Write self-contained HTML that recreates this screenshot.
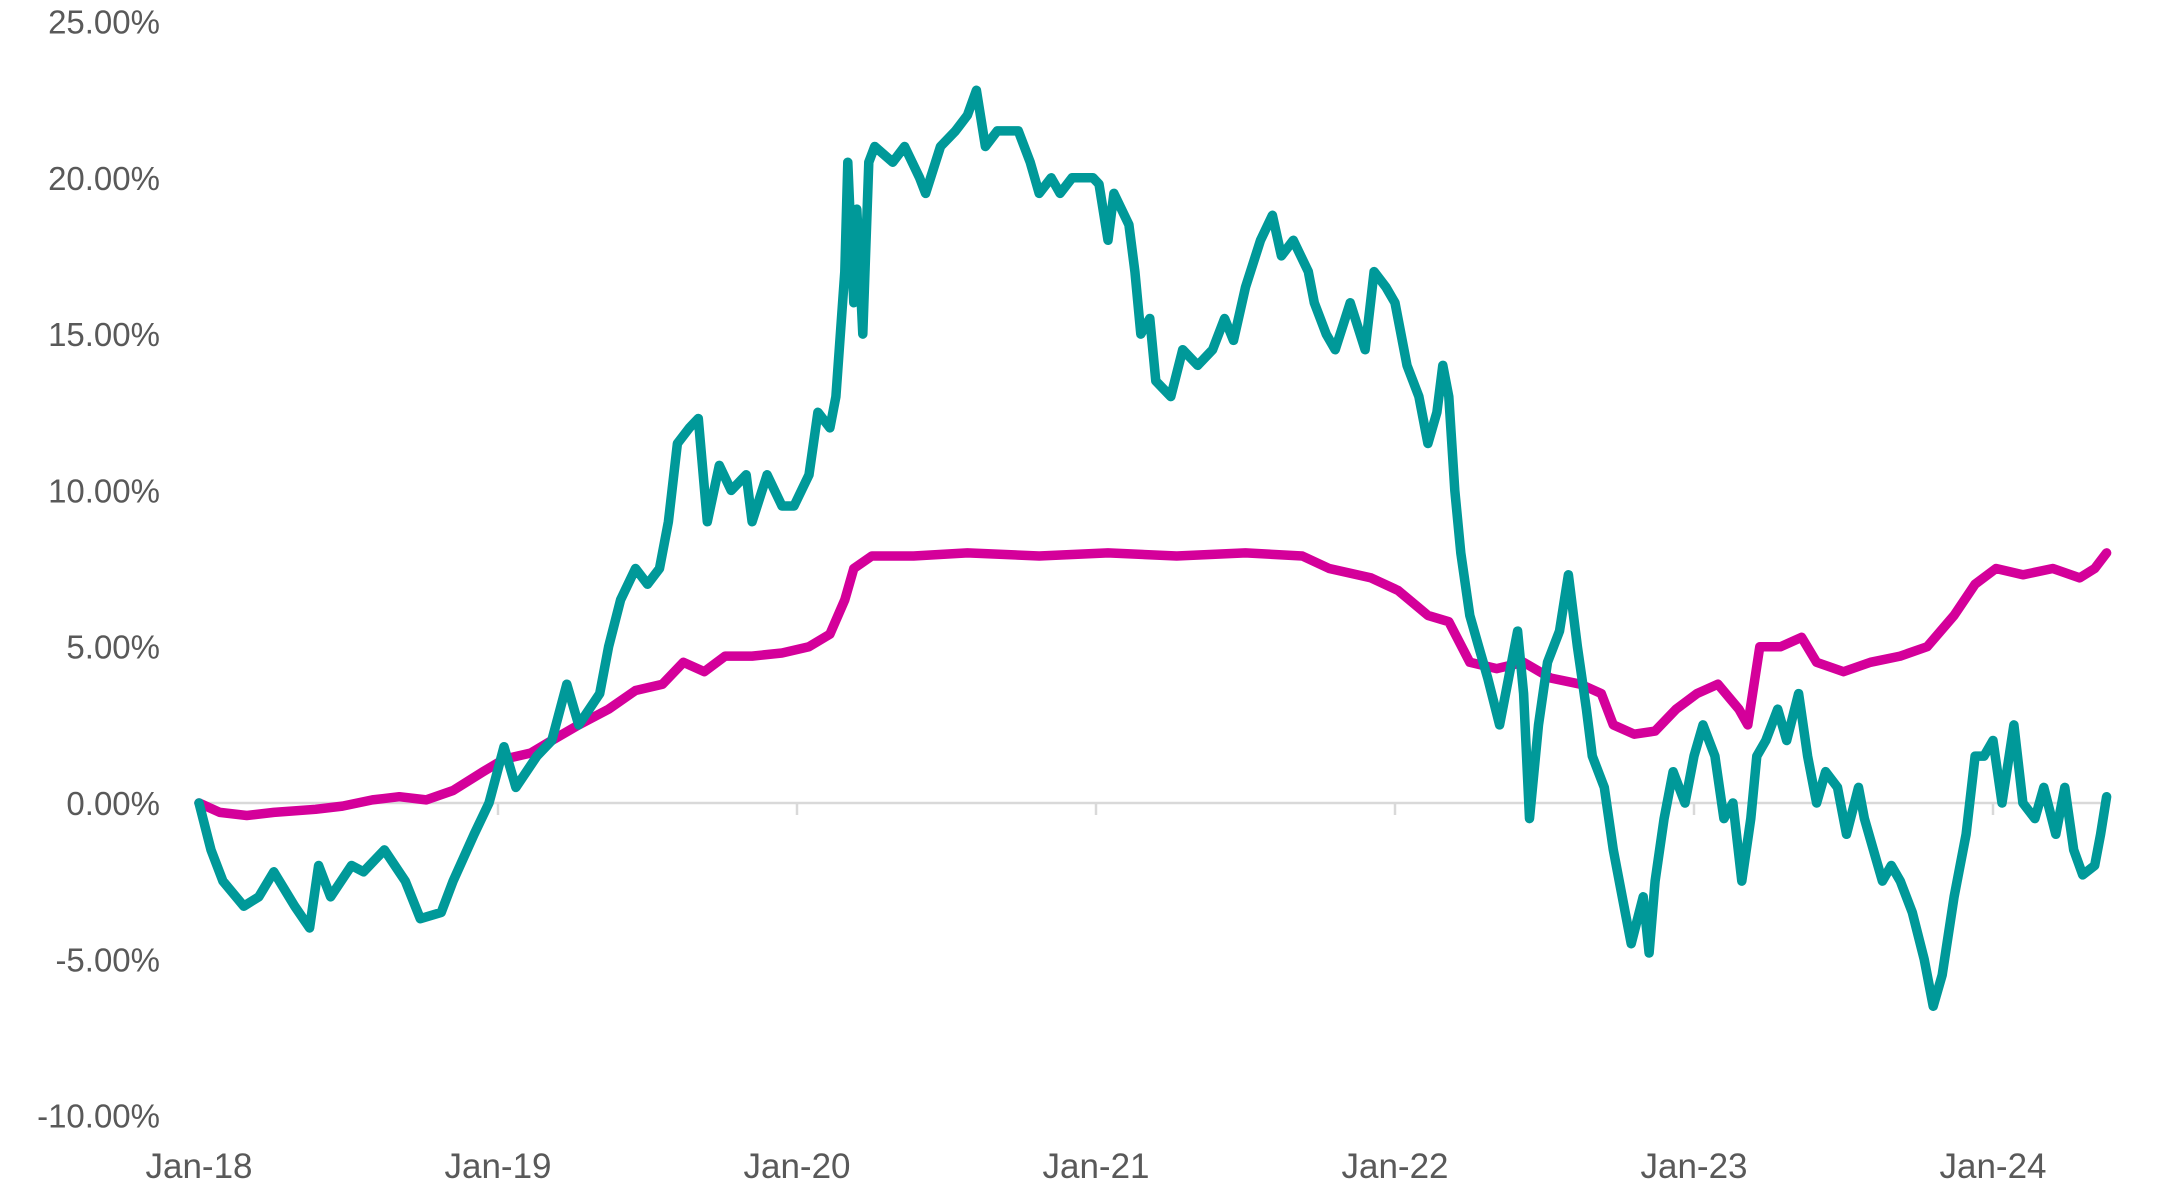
<!DOCTYPE html>
<html><head><meta charset="utf-8"><style>
html,body{margin:0;padding:0;background:#fff;}
svg{display:block;font-family:"Liberation Sans",sans-serif;}
</style></head><body>
<svg id="chart" width="2168" height="1198" viewBox="0 0 2168 1198" xmlns="http://www.w3.org/2000/svg">
<g id="axes"></g>
<g id="series"></g>
</svg>
<script>
const yTicks = [25, 20, 15, 10, 5, 0, -5, -10];
const xTickYears = [0, 1, 2, 3, 4, 5, 6];
const xTickLabels = ["Jan-18","Jan-19","Jan-20","Jan-21","Jan-22","Jan-23","Jan-24"];
// years since Jan-2018
const tealT = [0,.04,.08,.15,.20,.25,.32,.37,.40,.44,.51,.55,.62,.69,.74,.81,.85,.92,.97,1.02,1.06,1.13,1.18,1.23,1.27,1.34,1.37,1.41,1.46,1.50,1.54,1.57,1.60,1.64,1.67,1.70,1.74,1.78,1.83,1.85,1.90,1.95,1.99,2.04,2.07,2.11,2.13,2.16,2.17,2.19,2.20,2.22,2.24,2.26,2.32,2.36,2.41,2.43,2.48,2.53,2.57,2.60,2.63,2.67,2.74,2.78,2.81,2.85,2.88,2.92,2.99,3.01,3.04,3.06,3.11,3.13,3.15,3.18,3.20,3.25,3.29,3.34,3.39,3.43,3.46,3.50,3.55,3.59,3.62,3.66,3.71,3.73,3.77,3.80,3.85,3.90,3.93,3.97,4.00,4.04,4.08,4.11,4.14,4.16,4.18,4.20,4.22,4.25,4.28,4.31,4.35,4.38,4.41,4.43,4.45,4.48,4.51,4.55,4.58,4.61,4.64,4.66,4.70,4.73,4.77,4.79,4.83,4.85,4.87,4.90,4.93,4.97,5.00,5.03,5.07,5.10,5.13,5.16,5.19,5.21,5.24,5.28,5.31,5.35,5.38,5.41,5.44,5.48,5.51,5.55,5.57,5.60,5.63,5.66,5.69,5.73,5.77,5.80,5.83,5.87,5.91,5.94,5.97,6.00,6.03,6.07,6.10,6.14,6.17,6.21,6.24,6.27,6.30,6.34,6.36,6.38];
const tealV = [0,-1.5,-2.5,-3.3,-3.0,-2.2,-3.3,-4.0,-2.0,-3.0,-2.0,-2.2,-1.5,-2.5,-3.7,-3.5,-2.5,-1.0,0.0,1.8,0.5,1.5,2.0,3.8,2.5,3.5,5.0,6.5,7.5,7.0,7.5,9.0,11.5,12.0,12.3,9.0,10.8,10.0,10.5,9.0,10.5,9.5,9.5,10.5,12.5,12.0,13.0,17.0,20.5,16.0,19.0,15.0,20.5,21.0,20.5,21.0,20.0,19.5,21.0,21.5,22.0,22.8,21.0,21.5,21.5,20.5,19.5,20.0,19.5,20.0,20.0,19.8,18.0,19.5,18.5,17.0,15.0,15.5,13.5,13.0,14.5,14.0,14.5,15.5,14.8,16.5,18.0,18.8,17.5,18.0,17.0,16.0,15.0,14.5,16.0,14.5,17.0,16.5,16.0,14.0,13.0,11.5,12.5,14.0,13.0,10.0,8.0,6.0,5.0,4.0,2.5,4.0,5.5,3.5,-0.5,2.5,4.5,5.5,7.3,5.0,3.0,1.5,0.5,-1.5,-3.5,-4.5,-3.0,-4.8,-2.5,-0.5,1.0,0.0,1.5,2.5,1.5,-0.5,0.0,-2.5,-0.5,1.5,2.0,3.0,2.0,3.5,1.5,0.0,1.0,0.5,-1.0,0.5,-0.5,-1.5,-2.5,-2.0,-2.5,-3.5,-5.0,-6.5,-5.5,-3.0,-1.0,1.5,1.5,2.0,0.0,2.5,0.0,-0.5,0.5,-1.0,0.5,-1.5,-2.3,-2.0,-1.0,0.2];
const pinkT = [0,.07,.16,.25,.39,.48,.58,.67,.76,.85,.95,1.02,1.11,1.18,1.27,1.37,1.46,1.55,1.62,1.69,1.76,1.85,1.95,2.04,2.11,2.16,2.19,2.25,2.39,2.57,2.81,3.04,3.27,3.50,3.69,3.78,3.92,4.01,4.11,4.18,4.25,4.34,4.43,4.52,4.62,4.69,4.73,4.80,4.87,4.94,5.01,5.08,5.15,5.18,5.22,5.29,5.36,5.41,5.50,5.59,5.69,5.78,5.87,5.94,6.01,6.10,6.20,6.29,6.34,6.38];
const pinkV = [0,-0.3,-0.4,-0.3,-0.2,-0.1,0.1,0.2,0.1,0.4,1.0,1.4,1.6,2.0,2.5,3.0,3.6,3.8,4.5,4.2,4.7,4.7,4.8,5.0,5.4,6.5,7.5,7.9,7.9,8.0,7.9,8.0,7.9,8.0,7.9,7.5,7.2,6.8,6.0,5.8,4.5,4.3,4.5,4.0,3.8,3.5,2.5,2.2,2.3,3.0,3.5,3.8,3.0,2.5,5.0,5.0,5.3,4.5,4.2,4.5,4.7,5.0,6.0,7.0,7.5,7.3,7.5,7.2,7.5,8.0];

const NS = "http://www.w3.org/2000/svg";
const xS = t => 199 + t * 299;
const yS = v => 803 - v * 31.26;
const axes = document.getElementById('axes');
const series = document.getElementById('series');
function mk(tag, attrs, parent) {
  const e = document.createElementNS(NS, tag);
  for (const k in attrs) e.setAttribute(k, attrs[k]);
  parent.appendChild(e);
  return e;
}
yTicks.forEach(v => {
  const t = mk('text', {x: 160, y: yS(v) + 12, 'text-anchor': 'end', 'font-size': 33, fill: '#595959'}, axes);
  t.textContent = v.toFixed(2) + '%';
  
  
});
const zl = mk('line', {x1: xS(0), x2: xS(6.38), y1: yS(0), y2: yS(0), stroke: '#d9d9d9', 'stroke-width': 2.5}, axes);


xTickYears.forEach((yr, i) => {
  const tk = mk('line', {x1: xS(yr), x2: xS(yr), y1: yS(0), y2: yS(0) + 12, stroke: '#d9d9d9', 'stroke-width': 2.5}, axes);
  
  
  const t = mk('text', {x: xS(yr), y: 1178, 'text-anchor': 'middle', 'font-size': 35, fill: '#595959'}, axes);
  t.textContent = xTickLabels[i];
  
  
});
function line(T, V, color, name) {
  const d = T.map((t, i) => (i ? 'L' : 'M') + xS(t).toFixed(1) + ',' + yS(V[i]).toFixed(1)).join(' ');
  const p = mk('path', {d: d, fill: 'none', stroke: color, 'stroke-width': 9.5, 'stroke-linejoin': 'round', 'stroke-linecap': 'round'}, series);
  
  
}
line(pinkT, pinkV, '#d4009a', 'pink-series-line');
line(tealT, tealV, '#009999', 'teal-series-line');
</script>
</body></html>
